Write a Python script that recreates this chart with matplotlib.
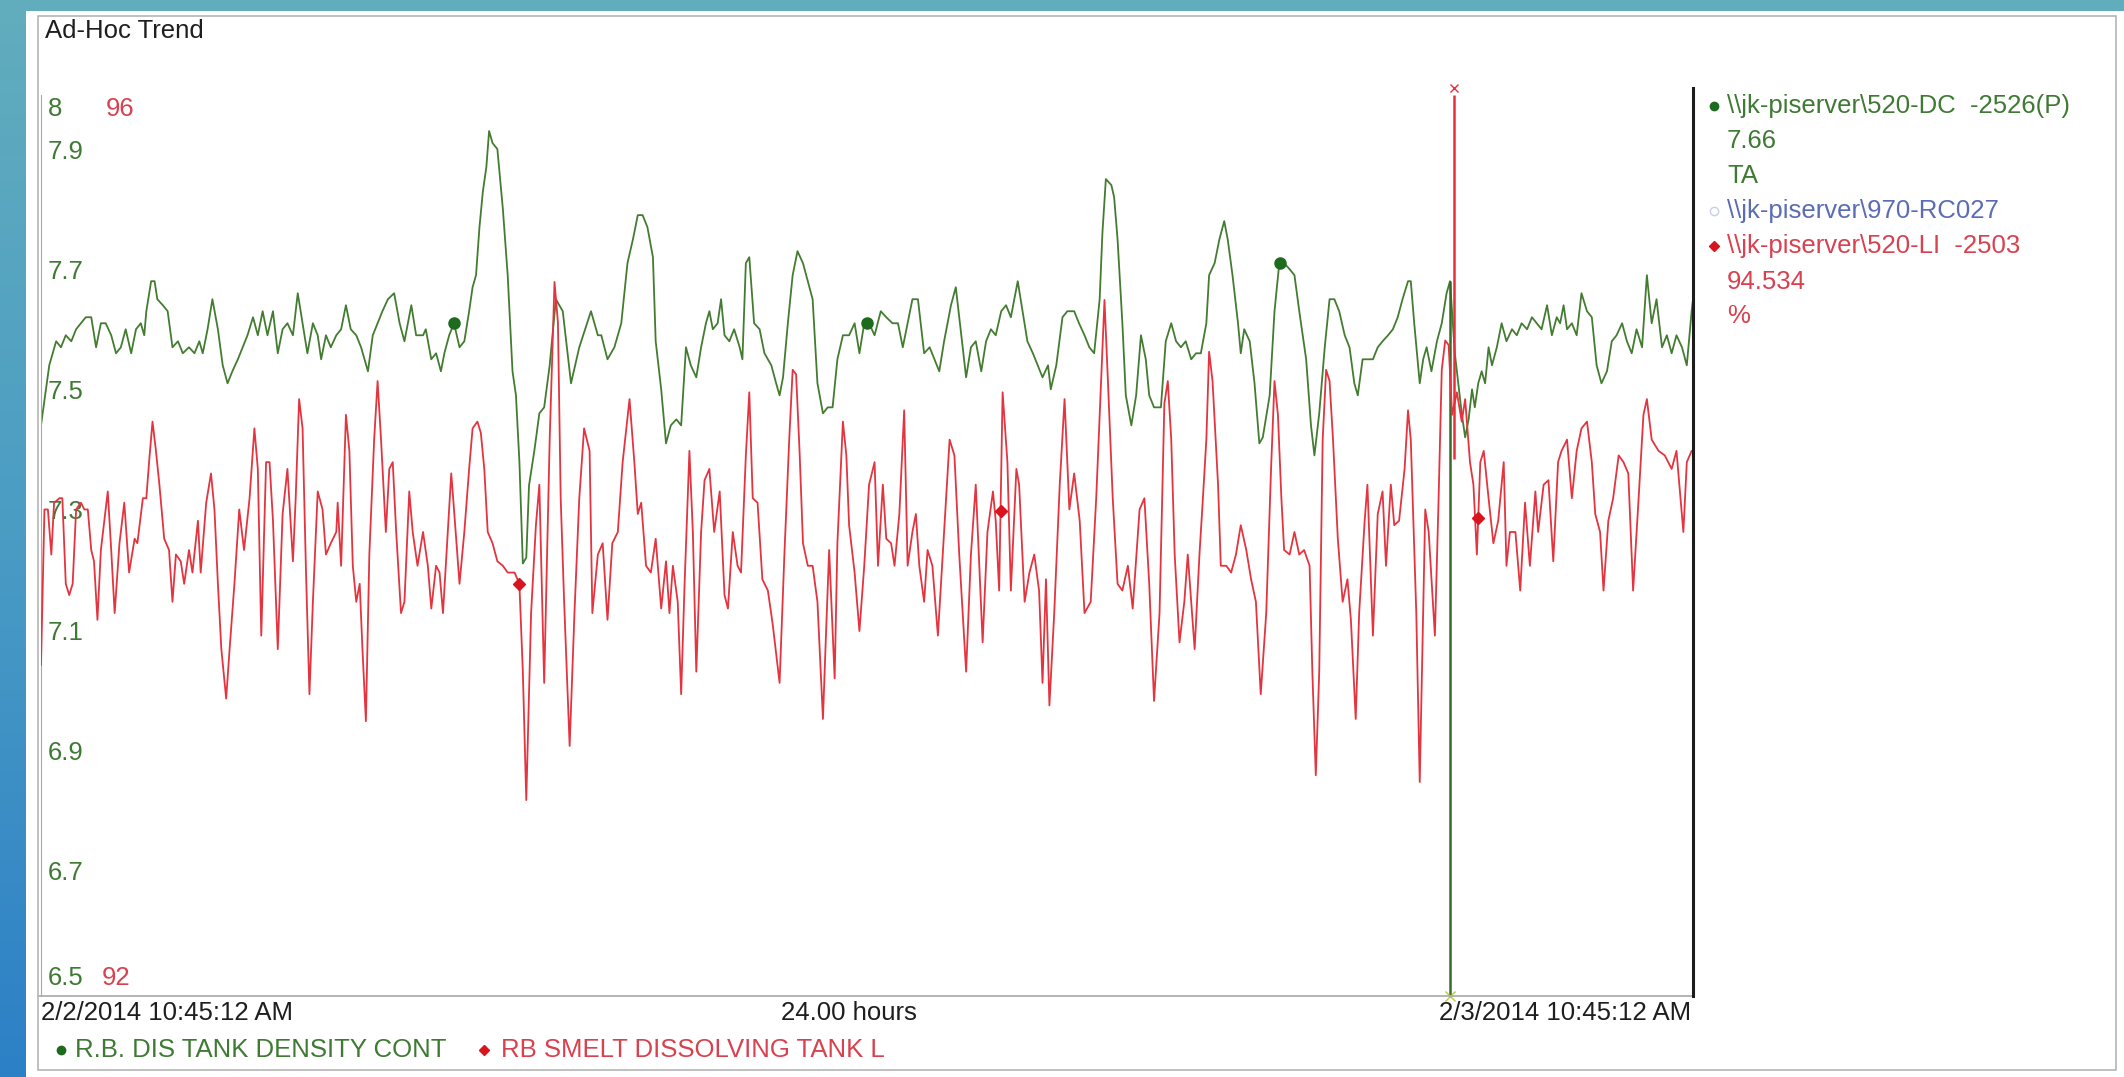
import numpy as np
import matplotlib.pyplot as plt
from matplotlib.patches import Rectangle
from matplotlib.lines import Line2D
from matplotlib.transforms import offset_copy

plt.rcParams['font.family'] = ['Liberation Sans', 'DejaVu Sans']

# hours after 2/2/2014 10:45:12 AM
g_hours = [0.00, 0.12, 0.22, 0.29, 0.36, 0.44, 0.51, 0.58, 0.65, 0.73, 0.80, 0.87, 0.94, 1.02, 1.09, 1.16,
           1.23, 1.31, 1.38, 1.45, 1.50, 1.53, 1.60, 1.65, 1.69, 1.77, 1.84, 1.91, 1.99, 2.06, 2.15, 2.23,
           2.30, 2.35, 2.42, 2.49, 2.57, 2.64, 2.71, 2.78, 2.86, 2.93, 3.00, 3.08, 3.15, 3.22, 3.29, 3.37,
           3.44, 3.51, 3.58, 3.66, 3.73, 3.80, 3.87, 3.95, 4.02, 4.07, 4.14, 4.21, 4.29, 4.36, 4.43, 4.50,
           4.58, 4.65, 4.75, 4.82, 4.89, 4.96, 5.04, 5.13, 5.21, 5.28, 5.38, 5.45, 5.55, 5.59, 5.67, 5.74,
           5.81, 5.86, 5.93, 6.00, 6.08, 6.15, 6.22, 6.27, 6.32, 6.37, 6.42, 6.47, 6.51, 6.56, 6.63, 6.71,
           6.78, 6.85, 6.90, 6.95, 7.00, 7.05, 7.09, 7.17, 7.24, 7.31, 7.39, 7.48, 7.58, 7.70, 7.82, 7.99,
           8.09, 8.14, 8.23, 8.33, 8.43, 8.52, 8.60, 8.67, 8.74, 8.81, 8.89, 8.93, 9.01, 9.08, 9.15, 9.23,
           9.30, 9.37, 9.44, 9.52, 9.59, 9.66, 9.71, 9.76, 9.83, 9.88, 9.93, 10.00, 10.07, 10.15, 10.19, 10.24,
           10.29, 10.36, 10.44, 10.51, 10.61, 10.68, 10.73, 10.78, 10.85, 10.92, 10.99, 11.07, 11.14, 11.21, 11.28, 11.36,
           11.43, 11.50, 11.57, 11.65, 11.74, 11.82, 11.89, 11.96, 12.03, 12.11, 12.20, 12.28, 12.37, 12.45, 12.52, 12.59,
           12.66, 12.74, 12.78, 12.83, 12.91, 12.98, 13.05, 13.12, 13.22, 13.29, 13.37, 13.44, 13.51, 13.58, 13.66, 13.73,
           13.80, 13.87, 13.95, 14.02, 14.09, 14.19, 14.26, 14.33, 14.41, 14.48, 14.55, 14.63, 14.67, 14.75, 14.84, 14.91,
           15.01, 15.08, 15.16, 15.23, 15.30, 15.38, 15.42, 15.47, 15.55, 15.59, 15.64, 15.71, 15.76, 15.84, 15.91, 15.98,
           16.05, 16.10, 16.17, 16.27, 16.34, 16.42, 16.49, 16.56, 16.63, 16.71, 16.78, 16.85, 16.93, 16.97, 17.05, 17.12,
           17.19, 17.24, 17.31, 17.39, 17.43, 17.48, 17.56, 17.63, 17.70, 17.75, 17.85, 17.92, 17.99, 18.06, 18.14, 18.21,
           18.28, 18.38, 18.45, 18.50, 18.57, 18.65, 18.72, 18.79, 18.86, 18.94, 19.01, 19.08, 19.13, 19.20, 19.27, 19.35,
           19.42, 19.49, 19.57, 19.64, 19.71, 19.78, 19.86, 19.90, 19.95, 20.03, 20.08, 20.13, 20.20, 20.28, 20.35, 20.42,
           20.47, 20.54, 20.59, 20.64, 20.69, 20.74, 20.79, 20.83, 20.88, 20.93, 20.98, 21.03, 21.08, 21.15, 21.22, 21.29,
           21.37, 21.44, 21.51, 21.59, 21.66, 21.73, 21.80, 21.88, 21.95, 22.02, 22.07, 22.12, 22.17, 22.24, 22.31, 22.38,
           22.46, 22.53, 22.60, 22.67, 22.75, 22.82, 22.89, 22.97, 23.04, 23.11, 23.18, 23.26, 23.33, 23.40, 23.47, 23.55,
           23.62, 23.69, 23.76, 23.84, 23.91, 23.98, 24.00]
g_vals = [7.45, 7.55, 7.59, 7.58, 7.60, 7.59, 7.61, 7.62, 7.63, 7.63, 7.58, 7.62, 7.62, 7.60, 7.57, 7.58,
          7.61, 7.57, 7.61, 7.62, 7.60, 7.64, 7.69, 7.69, 7.66, 7.65, 7.64, 7.58, 7.59, 7.57, 7.58, 7.57,
          7.59, 7.57, 7.61, 7.66, 7.61, 7.55, 7.52, 7.54, 7.56, 7.58, 7.60, 7.63, 7.60, 7.64, 7.60, 7.64,
          7.57, 7.61, 7.62, 7.60, 7.67, 7.62, 7.57, 7.62, 7.60, 7.56, 7.60, 7.58, 7.60, 7.61, 7.65, 7.61,
          7.60, 7.58, 7.54, 7.60, 7.62, 7.64, 7.66, 7.67, 7.62, 7.59, 7.65, 7.60, 7.60, 7.61, 7.56, 7.57,
          7.54, 7.57, 7.60, 7.62, 7.58, 7.59, 7.64, 7.68, 7.70, 7.78, 7.84, 7.88, 7.94, 7.92, 7.91, 7.81,
          7.70, 7.54, 7.50, 7.39, 7.22, 7.23, 7.35, 7.41, 7.47, 7.48, 7.55, 7.66, 7.64, 7.52, 7.58, 7.64,
          7.60, 7.60, 7.56, 7.58, 7.62, 7.72, 7.76, 7.80, 7.80, 7.78, 7.73, 7.59, 7.51, 7.42, 7.45, 7.46,
          7.45, 7.58, 7.55, 7.53, 7.58, 7.62, 7.64, 7.61, 7.62, 7.66, 7.60, 7.59, 7.61, 7.58, 7.56, 7.72,
          7.73, 7.62, 7.61, 7.57, 7.55, 7.52, 7.50, 7.53, 7.62, 7.70, 7.74, 7.72, 7.69, 7.66, 7.52, 7.47,
          7.48, 7.48, 7.56, 7.60, 7.60, 7.62, 7.57, 7.62, 7.62, 7.60, 7.64, 7.63, 7.62, 7.62, 7.58, 7.62,
          7.66, 7.66, 7.62, 7.57, 7.58, 7.56, 7.54, 7.59, 7.65, 7.68, 7.60, 7.53, 7.58, 7.59, 7.54, 7.59,
          7.61, 7.60, 7.64, 7.65, 7.63, 7.69, 7.64, 7.59, 7.57, 7.55, 7.53, 7.55, 7.51, 7.55, 7.63, 7.64,
          7.64, 7.62, 7.60, 7.58, 7.57, 7.66, 7.77, 7.86, 7.85, 7.83, 7.76, 7.62, 7.50, 7.45, 7.50, 7.60,
          7.56, 7.50, 7.48, 7.48, 7.59, 7.62, 7.59, 7.58, 7.59, 7.56, 7.57, 7.57, 7.62, 7.70, 7.72, 7.76,
          7.79, 7.76, 7.70, 7.62, 7.57, 7.61, 7.59, 7.52, 7.42, 7.43, 7.50, 7.64, 7.72, 7.72, 7.71, 7.70,
          7.64, 7.56, 7.45, 7.40, 7.47, 7.58, 7.66, 7.66, 7.64, 7.60, 7.58, 7.52, 7.50, 7.56, 7.56, 7.56,
          7.58, 7.59, 7.60, 7.61, 7.63, 7.66, 7.69, 7.69, 7.62, 7.52, 7.56, 7.58, 7.54, 7.59, 7.62, 7.67,
          7.69, 7.57, 7.52, 7.47, 7.43, 7.46, 7.51, 7.48, 7.52, 7.54, 7.52, 7.58, 7.55, 7.58, 7.62, 7.59,
          7.61, 7.60, 7.62, 7.61, 7.63, 7.62, 7.61, 7.65, 7.60, 7.63, 7.62, 7.65, 7.61, 7.62, 7.60, 7.67,
          7.64, 7.63, 7.55, 7.52, 7.54, 7.59, 7.60, 7.62, 7.59, 7.57, 7.61, 7.58, 7.70, 7.62, 7.66, 7.58,
          7.60, 7.57, 7.60, 7.58, 7.55, 7.64, 7.66]

r_hours = [0.00, 0.05, 0.10, 0.15, 0.19, 0.27, 0.31, 0.36, 0.41, 0.46, 0.51, 0.58, 0.63, 0.68, 0.73, 0.77,
           0.82, 0.87, 0.97, 1.02, 1.07, 1.14, 1.21, 1.28, 1.36, 1.40, 1.48, 1.53, 1.57, 1.62, 1.67, 1.72,
           1.79, 1.86, 1.91, 1.96, 2.03, 2.08, 2.15, 2.20, 2.28, 2.32, 2.40, 2.47, 2.52, 2.57, 2.62, 2.69,
           2.74, 2.81, 2.88, 2.95, 3.03, 3.10, 3.15, 3.20, 3.27, 3.32, 3.37, 3.44, 3.51, 3.58, 3.66, 3.70,
           3.75, 3.80, 3.85, 3.90, 3.95, 4.02, 4.09, 4.14, 4.21, 4.29, 4.31, 4.36, 4.43, 4.48, 4.53, 4.58,
           4.63, 4.67, 4.72, 4.77, 4.84, 4.89, 4.94, 5.01, 5.06, 5.11, 5.16, 5.23, 5.28, 5.35, 5.40, 5.47,
           5.55, 5.62, 5.67, 5.74, 5.79, 5.84, 5.91, 5.96, 6.00, 6.08, 6.15, 6.22, 6.27, 6.34, 6.39, 6.44,
           6.49, 6.56, 6.63, 6.71, 6.78, 6.88, 6.95, 7.00, 7.05, 7.12, 7.19, 7.24, 7.31, 7.39, 7.46, 7.51,
           7.55, 7.60, 7.68, 7.75, 7.82, 7.89, 7.97, 8.01, 8.09, 8.16, 8.23, 8.30, 8.38, 8.45, 8.55, 8.62,
           8.67, 8.72, 8.79, 8.86, 8.93, 9.01, 9.08, 9.13, 9.18, 9.25, 9.30, 9.35, 9.42, 9.47, 9.52, 9.59,
           9.64, 9.71, 9.78, 9.86, 9.93, 9.98, 10.05, 10.12, 10.17, 10.24, 10.29, 10.34, 10.41, 10.48, 10.56, 10.63,
           10.73, 10.80, 10.87, 10.92, 10.97, 11.02, 11.07, 11.14, 11.21, 11.28, 11.36, 11.40, 11.45, 11.53, 11.57, 11.65,
           11.70, 11.74, 11.82, 11.89, 11.96, 12.03, 12.11, 12.16, 12.23, 12.28, 12.35, 12.40, 12.47, 12.54, 12.59, 12.66,
           12.71, 12.76, 12.83, 12.88, 12.95, 13.03, 13.10, 13.20, 13.27, 13.34, 13.44, 13.51, 13.58, 13.68, 13.75, 13.83,
           13.87, 13.92, 13.97, 14.04, 14.09, 14.17, 14.21, 14.29, 14.36, 14.43, 14.50, 14.55, 14.60, 14.65, 14.72, 14.80,
           14.87, 14.94, 15.01, 15.09, 15.16, 15.25, 15.33, 15.40, 15.45, 15.50, 15.57, 15.64, 15.71, 15.79, 15.86, 15.96,
           16.03, 16.10, 16.17, 16.25, 16.32, 16.37, 16.42, 16.47, 16.54, 16.61, 16.66, 16.71, 16.76, 16.83, 16.88, 16.93,
           16.97, 17.02, 17.10, 17.14, 17.22, 17.29, 17.36, 17.43, 17.51, 17.58, 17.65, 17.72, 17.80, 17.87, 17.92, 17.97,
           18.02, 18.06, 18.14, 18.21, 18.28, 18.35, 18.43, 18.47, 18.52, 18.57, 18.62, 18.67, 18.72, 18.77, 18.84, 18.91,
           18.98, 19.03, 19.10, 19.15, 19.23, 19.27, 19.35, 19.42, 19.49, 19.54, 19.61, 19.66, 19.73, 19.81, 19.86, 19.90,
           19.98, 20.03, 20.11, 20.16, 20.25, 20.30, 20.35, 20.40, 20.45, 20.50, 20.57, 20.64, 20.69, 20.76, 20.81, 20.86,
           20.91, 20.96, 21.03, 21.10, 21.17, 21.25, 21.29, 21.34, 21.42, 21.49, 21.56, 21.63, 21.71, 21.75, 21.83, 21.90,
           21.97, 22.04, 22.09, 22.17, 22.24, 22.31, 22.38, 22.46, 22.53, 22.58, 22.65, 22.70, 22.77, 22.84, 22.92, 22.99,
           23.06, 23.13, 23.21, 23.28, 23.33, 23.40, 23.50, 23.59, 23.69, 23.76, 23.86, 23.91, 23.98, 24.00]
r_vals = [93.47, 94.16, 94.16, 93.96, 94.19, 94.21, 94.21, 93.83, 93.78, 93.83, 94.16, 94.19, 94.16, 94.16, 93.98, 93.93,
          93.67, 93.98, 94.24, 93.98, 93.70, 94.01, 94.19, 93.88, 94.03, 94.01, 94.21, 94.21, 94.37, 94.55, 94.42, 94.27,
          94.03, 93.98, 93.75, 93.96, 93.93, 93.83, 93.98, 93.88, 94.11, 93.88, 94.19, 94.32, 94.16, 93.83, 93.54, 93.32,
          93.54, 93.83, 94.16, 93.98, 94.21, 94.52, 94.34, 93.60, 94.37, 94.37, 94.11, 93.54, 94.14, 94.34, 93.93, 94.21,
          94.65, 94.52, 93.88, 93.34, 93.75, 94.24, 94.16, 93.96, 94.01, 94.06, 94.19, 93.91, 94.58, 94.42, 93.91, 93.75,
          93.83, 93.54, 93.22, 93.96, 94.47, 94.73, 94.47, 94.06, 94.34, 94.37, 94.06, 93.70, 93.75, 94.24, 94.06, 93.91,
          94.06, 93.91, 93.72, 93.91, 93.88, 93.70, 94.06, 94.32, 94.16, 93.83, 94.06, 94.34, 94.52, 94.55, 94.50, 94.34,
          94.06, 94.01, 93.93, 93.91, 93.88, 93.88, 93.83, 93.44, 92.87, 93.70, 94.09, 94.27, 93.39, 94.47, 95.17, 94.99,
          94.21, 93.75, 93.11, 93.70, 94.21, 94.52, 94.42, 93.70, 93.96, 94.01, 93.67, 94.01, 94.06, 94.37, 94.65, 94.37,
          94.14, 94.19, 93.91, 93.88, 94.03, 93.72, 93.93, 93.70, 93.91, 93.75, 93.34, 93.83, 94.42, 94.06, 93.44, 94.06,
          94.29, 94.34, 94.06, 94.24, 93.78, 93.72, 94.06, 93.91, 93.88, 94.40, 94.68, 94.21, 94.19, 93.85, 93.80, 93.65,
          93.39, 93.96, 94.47, 94.78, 94.76, 94.42, 94.01, 93.91, 93.91, 93.75, 93.23, 93.57, 93.98, 93.41, 94.01, 94.55,
          94.40, 94.09, 93.88, 93.62, 93.91, 94.27, 94.37, 93.91, 94.27, 94.03, 94.01, 93.91, 94.14, 94.60, 93.91, 94.06,
          94.14, 93.91, 93.75, 93.98, 93.91, 93.60, 93.96, 94.47, 94.40, 93.96, 93.44, 93.96, 94.27, 93.57, 94.06, 94.24,
          94.11, 93.80, 94.68, 94.37, 93.80, 94.34, 94.27, 93.75, 93.88, 93.96, 93.80, 93.39, 93.85, 93.29, 93.70, 94.27,
          94.65, 94.16, 94.32, 94.11, 93.70, 93.75, 94.21, 94.73, 95.09, 94.73, 94.21, 93.83, 93.80, 93.91, 93.72, 94.16,
          94.21, 93.83, 93.31, 93.70, 94.63, 94.73, 94.47, 93.96, 93.57, 93.75, 93.96, 93.75, 93.54, 93.96, 94.21, 94.47,
          94.86, 94.73, 94.27, 93.91, 93.91, 93.88, 93.96, 94.09, 93.98, 93.85, 93.75, 93.34, 93.70, 94.34, 94.73, 94.58,
          94.21, 93.98, 93.96, 94.06, 93.96, 93.98, 93.91, 93.44, 92.98, 93.44, 94.47, 94.78, 94.73, 94.47, 94.03, 93.75,
          93.85, 93.67, 93.23, 93.70, 94.11, 94.27, 93.60, 94.14, 94.24, 93.91, 94.27, 94.09, 94.11, 94.34, 94.60, 94.47,
          93.70, 92.95, 94.16, 94.06, 93.60, 94.16, 94.78, 94.91, 94.89, 94.58, 94.68, 94.55, 94.65, 94.37, 94.27, 93.96,
          94.37, 94.42, 94.21, 94.01, 94.11, 94.37, 93.91, 94.06, 94.06, 93.80, 94.19, 93.91, 94.24, 94.06, 94.27, 94.29,
          93.93, 94.37, 94.42, 94.47, 94.21, 94.42, 94.52, 94.55, 94.37, 94.14, 94.06, 93.80, 94.11, 94.21, 94.40, 94.37,
          94.32, 93.80, 94.21, 94.58, 94.65, 94.47, 94.42, 94.40, 94.34, 94.42, 94.06, 94.37, 94.42, 94.42]

g_marker_hours = [6.0, 12.0, 18.0]
r_marker_hours = [6.95, 13.94, 20.88]

cursor_hour = 20.5
cursor_green = 7.66
cursor_red = 94.534

g_ticks = [7.9, 7.7, 7.5, 7.3, 7.1, 6.9, 6.7]
g_min, g_max = 6.5, 8
r_min, r_max = 92, 96

start_label = '2/2/2014 10:45:12 AM'
end_label = '2/3/2014 10:45:12 AM'
span_label = '24.00 hours'
g_name = 'R.B. DIS TANK DENSITY CONT'
r_name = 'RB SMELT DISSOLVING TANK L'

GREEN = '#437c30'
GREEN_TXT = '#3f7a34'
RED = '#e3343f'
RED_TXT = '#d8414f'
BLUE_TXT = '#5b6cb6'

W, H = 2124, 1077
fig = plt.figure(figsize=(W / 100, H / 100), dpi=100)
fig.patch.set_facecolor('white')
FS = 18.5


def fx(px):
    return px / W


def fy(py):
    return 1 - py / H


# page background strips
bg = fig.add_axes([0, 0, fx(26), 1])
grad = np.linspace(0, 1, 256).reshape(-1, 1)
bg.imshow(grad, aspect='auto', cmap=plt.matplotlib.colors.LinearSegmentedColormap.from_list(
    'strip', ['#62adbd', '#4a9cc4', '#2c80c6']), extent=[0, 1, 0, 1], origin='upper')
bg.axis('off')
fig.patches.append(Rectangle((0, fy(11)), 1, 11 / H, transform=fig.transFigure,
                             facecolor='#62adbd', edgecolor='none'))
fig.patches.append(Rectangle((fx(38), fy(1070)), fx(2116 - 38), (1070 - 16) / H,
                             transform=fig.transFigure, facecolor='none',
                             edgecolor='#b5b5b5', lw=1.2))

# trend area
L, R, T, B = 41, 1693, 95, 996
ax = fig.add_axes([fx(L), fy(B), fx(R - L), (B - T) / H])
ax.set_xlim(0, 24)
ax.set_ylim(g_min, g_max)
axr = ax.twinx()
axr.set_ylim(r_min, r_max)
for a in (ax, axr):
    a.set_facecolor('none')
    a.set_xticks([])
    a.set_yticks([])
    for s in a.spines.values():
        s.set_visible(False)
ax.spines['left'].set_visible(True)
ax.spines['left'].set_color('#a8a8a8')
ax.spines['bottom'].set_visible(True)
ax.spines['bottom'].set_color('#a8a8a8')
ax.spines['bottom'].set_linewidth(1.2)

ax.plot(g_hours, g_vals, color=GREEN, lw=1.3)
axr.plot(r_hours, r_vals, color=RED, lw=1.3)

ax.plot(g_marker_hours, np.interp(g_marker_hours, g_hours, g_vals), 'o',
        color='#1d6b1d', ms=8)
axr.plot(r_marker_hours, np.interp(r_marker_hours, r_hours, r_vals), 'D',
         color='#d8141e', ms=6)

# trend cursor
ax.vlines(cursor_hour - 0.03, g_min, cursor_green + 0.03, color='#3a6a2a', lw=1.8)
axr.vlines(cursor_hour + 0.03, cursor_red - 0.15, r_max, color='#e8303a', lw=1.8)
axr.plot([cursor_hour + 0.03], [r_max + 0.03], 'x', color='#e8303a', ms=6, clip_on=False)
ax.plot([cursor_hour - 0.03], [g_min], 'x', color='#b8c840', ms=7, clip_on=False)

# right edge of the trend
fig.add_artist(Line2D([fx(R), fx(R)], [fy(88), fy(B)], color='#1c1c1c', lw=2.2))
ax.spines['bottom'].set_bounds(-0.05, 24)

# scale labels
ytr = ax.get_yaxis_transform()
for v in g_ticks:
    ax.text(0.004, v, f'{v:g}', transform=offset_copy(ytr, fig=fig, y=-4, units='dots'),
            color=GREEN_TXT, fontsize=FS, va='baseline', ha='left')
ax.text(0.004, g_max, f'{g_max:g}', transform=offset_copy(ytr, fig=fig, y=-2, units='dots'),
        color=GREEN_TXT, fontsize=FS, va='top', ha='left')
ax.text(0.004, g_min, f'{g_min:g}', transform=offset_copy(ytr, fig=fig, y=11, units='dots'),
        color=GREEN_TXT, fontsize=FS, va='baseline', ha='left')
rtr = axr.get_yaxis_transform()
axr.text(0.039, r_max, f'{r_max:g}', transform=offset_copy(rtr, fig=fig, y=-2, units='dots'),
         color=RED_TXT, fontsize=FS, va='top', ha='left')
axr.text(0.037, r_min, f'{r_min:g}', transform=offset_copy(rtr, fig=fig, y=11, units='dots'),
         color=RED_TXT, fontsize=FS, va='baseline', ha='left')

# headings and time labels
fig.text(fx(45), fy(31), 'Ad-Hoc Trend', fontsize=FS, color='#1e1e1e', va='center')
fig.text(fx(41), fy(1013), start_label, fontsize=FS, color='#1e1e1e', va='center', ha='left')
fig.text(fx(849), fy(1013), span_label, fontsize=FS, color='#1e1e1e', va='center', ha='center')
fig.text(fx(1691), fy(1013), end_label, fontsize=FS, color='#1e1e1e', va='center', ha='right')

# bottom legend
fig.add_artist(Line2D([fx(61)], [fy(1050)], marker='o', color='#1d6b1d', ms=6))
fig.text(fx(75), fy(1050), g_name, fontsize=FS, color=GREEN_TXT, va='center')
fig.add_artist(Line2D([fx(484)], [fy(1050)], marker='D', color='#d8141e', ms=5))
fig.text(fx(501), fy(1050), r_name, fontsize=FS, color=RED_TXT, va='center')

# right legend
legend_rows = [
    ('o', GREEN_TXT, r'\\jk-piserver\520-DC  -2526(P)'),
    (None, GREEN_TXT, f'{cursor_green:.2f}'),
    (None, GREEN_TXT, 'TA'),
    ('open', BLUE_TXT, r'\\jk-piserver\970-RC027'),
    ('D', RED_TXT, r'\\jk-piserver\520-LI  -2503'),
    (None, RED_TXT, f'{cursor_red:.3f}'),
    (None, RED_TXT, '%'),
]
row_y = [106, 141, 176, 211, 246, 282, 316]
for (mk, col, txt), yy in zip(legend_rows, row_y):
    if mk == 'o':
        fig.add_artist(Line2D([fx(1714)], [fy(yy)], marker='o', color='#1d6b1d', ms=6))
    elif mk == 'D':
        fig.add_artist(Line2D([fx(1714)], [fy(yy)], marker='D', color='#d8141e', ms=5))
    elif mk == 'open':
        fig.add_artist(Line2D([fx(1714)], [fy(yy)], marker='o', mfc='none',
                              mec='#c8d0e8', ms=6))
    fig.text(fx(1727), fy(yy), txt, fontsize=FS, color=col, va='center')

fig.savefig('out.png', dpi=100, facecolor='white')
